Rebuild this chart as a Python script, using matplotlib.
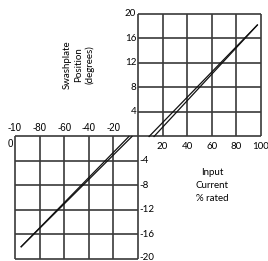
import matplotlib
matplotlib.use('Agg')
import matplotlib.pyplot as plt

# swashplate position vs input current, two quadrants
pos_x_up = [9, 97]
pos_y_up = [0, 18.2]
pos_x_down = [13, 97]
pos_y_down = [0, 18.2]

neg_x_up = [-7.4, -95]
neg_y_up = [0, -18]
neg_x_down = [-4.9, -95]
neg_y_down = [0, -18]

pos_xticks = [20, 40, 60, 80, 100]
pos_yticks = [4, 8, 12, 16, 20]
neg_xticks = [-80, -60, -40, -20]
neg_yticks = [-4, -8, -12, -16, -20]

box_col = '#3a3a3a'
gill = 'Lato'
arial = 'Liberation Sans'

fig = plt.figure(figsize=(2.68, 2.61), dpi=100)
ax = fig.add_axes([0.056, 0.0077, 0.918, 0.9387])
ax.set_xlim(-100, 100)
ax.set_ylim(-20, 20)
ax.axis('off')

# grid boxes
for x in [0] + pos_xticks:
    ax.plot([x, x], [0, 20], color=box_col, lw=1.2, clip_on=False, solid_capstyle='butt')
for y in [0] + pos_yticks:
    ax.plot([0, 100], [y, y], color=box_col, lw=1.2, clip_on=False, solid_capstyle='butt')
for x in [-100, 0] + neg_xticks:
    ax.plot([x, x], [-20, 0], color=box_col, lw=1.2, clip_on=False, solid_capstyle='butt')
for y in [0] + neg_yticks:
    ax.plot([-100, 0], [y, y], color=box_col, lw=1.2, clip_on=False, solid_capstyle='butt')

# curves
ax.plot(pos_x_up, pos_y_up, color='#111111', lw=0.9)
ax.plot(pos_x_down, pos_y_down, color='#111111', lw=0.9)
ax.plot(neg_x_up, neg_y_up, color='#111111', lw=0.9)
ax.plot(neg_x_down, neg_y_down, color='#111111', lw=0.9)

# tick labels
for x in pos_xticks:
    ax.text(x, -0.9, str(x), ha='center', va='top', fontsize=7, family=gill, clip_on=False)
for y in pos_yticks:
    ax.text(-1.5, y, str(y), ha='right', va='center', fontsize=7, family=gill)
for x in neg_xticks:
    ax.text(x, 0.5, str(x), ha='center', va='bottom', fontsize=7, family=arial)
ax.text(-100, 0.5, '-10', ha='center', va='bottom', fontsize=7, family=arial, clip_on=False)
ax.text(-101.5, -1.2, '0', ha='right', va='center', fontsize=7, family=arial, clip_on=False)
for y in neg_yticks[:-1]:
    ax.text(1.5, y, str(y), ha='left', va='center', fontsize=7, family=gill, clip_on=False)
# bottom label sits partly outside the figure in the reference
ax.text(1.5, neg_yticks[-1] + 0.3, str(neg_yticks[-1]), ha='left', va='center', fontsize=7,
        family=gill, clip_on=False)

# axis titles
ax.text(-48, 11.8, 'Swashplate\nPosition\n(degrees)', ha='center', va='center', rotation=90,
        fontsize=7, family=gill, linespacing=1.3)
ax.text(60, -8, 'Input\nCurrent\n% rated', ha='center', va='center',
        fontsize=7, family=gill, linespacing=1.6)

fig.savefig('out.png', dpi=100)
